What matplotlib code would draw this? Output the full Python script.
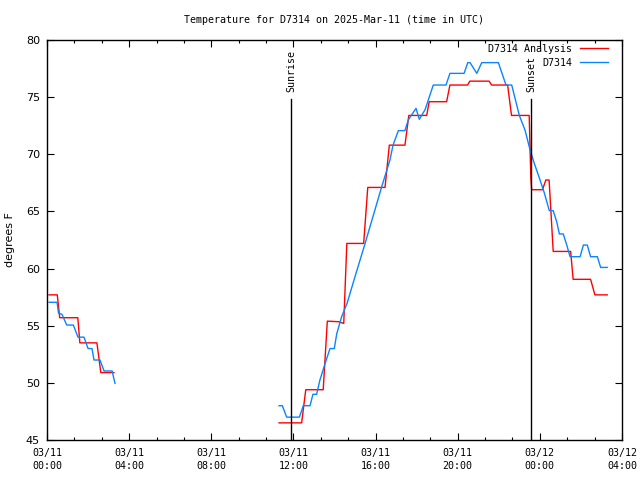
import numpy as np
import matplotlib
matplotlib.use("Agg")
import matplotlib.pyplot as plt
from matplotlib.ticker import MultipleLocator, FixedLocator

nan = np.nan
# hours since 03/11 00:00 UTC
red_t = [0.10, 0.50, 0.62, 1.50, 1.60, 2.43, 2.62, 3.26, nan,
         11.30, 12.40, 12.60, 13.45, 13.65, 14.20, 14.45, 14.60, 15.42, 15.62,
         16.46, 16.67, 17.43, 17.62, 18.49, 18.61, 19.46, 19.62, 20.48, 20.59,
         21.53, 21.65, 22.43, 22.62, 23.48, 23.56, 23.60, 24.13, 24.29, 24.45,
         24.65, 25.50, 25.62, 26.47, 26.68, 27.28]
red_v = [57.7, 57.7, 55.7, 55.7, 53.5, 53.5, 50.9, 50.9, nan,
         46.5, 46.5, 49.4, 49.4, 55.4, 55.35, 55.2, 62.2, 62.2, 67.1,
         67.1, 70.8, 70.8, 73.4, 73.4, 74.6, 74.6, 76.06, 76.06, 76.4,
         76.4, 76.06, 76.06, 73.4, 73.4, 68.0, 66.9, 66.9, 67.75, 67.75,
         61.5, 61.5, 59.06, 59.06, 57.7, 57.7]

blue_t = [0.10, 0.49, 0.56, 0.73, 0.96, 1.28, 1.51, 1.80, 2.00, 2.19, 2.29, 2.58,
          2.78, 3.17, 3.31, nan,
          11.30, 11.46, 11.67, 12.29, 12.48, 12.81, 12.95, 13.13, 13.29, 13.49,
          13.78, 13.99, 14.11, 14.35, 14.62, 15.00, 15.49, 16.30, 16.70, 16.85,
          17.11, 17.43, 17.59, 17.97, 18.13, 18.41, 18.54, 18.81, 19.43, 19.62,
          20.31, 20.49, 20.60, 20.93, 21.17, 21.98, 22.35, 22.63, 23.00, 23.28,
          23.52, 23.73, 24.01, 24.22, 24.46, 24.65, 24.82, 24.95, 25.14, 25.31,
          25.47, 25.96, 26.12, 26.31, 26.47, 26.80, 26.96, 27.28]
blue_v = [57.05, 57.05, 56.1, 56.0, 55.06, 55.06, 54.0, 54.0, 53.0, 53.0, 52.0, 52.0,
          51.04, 51.04, 49.96, nan,
          48.0, 48.0, 47.0, 47.0, 48.0, 48.0, 49.0, 49.0, 50.25, 51.4,
          53.0, 53.0, 54.3, 55.8, 57.0, 59.3, 62.2, 67.17, 69.5, 70.8,
          72.07, 72.07, 73.0, 74.02, 73.06, 73.9, 74.6, 76.06, 76.06, 77.08,
          77.08, 78.02, 78.02, 77.08, 78.02, 78.02, 76.06, 76.06, 73.4, 72.1,
          70.4, 69.2, 67.75, 66.6, 65.07, 65.07, 64.1, 63.03, 63.03, 62.06,
          61.04, 61.04, 62.06, 62.06, 61.04, 61.04, 60.1, 60.1]

sun_t = [11.88, 23.57]
sun_labels = ["Sunrise", "Sunset"]

xtick_pos = [0, 4, 8, 12, 16, 20, 24, 28]
xtick_labels = ["03/11\n00:00", "03/11\n04:00", "03/11\n08:00", "03/11\n12:00",
                "03/11\n16:00", "03/11\n20:00", "03/12\n00:00", "03/12\n04:00"]

mono = "DejaVu Sans Mono"
fs = 7.2

fig = plt.figure(figsize=(6.4, 4.8), dpi=100)
ax = fig.add_axes([47/640, 40/480, 575/640, 400/480])

ax.plot(red_t, red_v, color="#ff0000", lw=1.0, label="D7314 Analysis")
ax.plot(blue_t, blue_v, color="#0a84ff", lw=1.0, label="D7314")

for t, lab in zip(sun_t, sun_labels):
    ax.axvline(t, ymin=0, ymax=0.8525, color="black", lw=1.0)
    ax.text(t, 0.87, lab, rotation=90, ha="center", va="bottom",
            transform=ax.get_xaxis_transform(), family=mono, fontsize=fs)

ax.set_xlim(0, 28)
ax.set_ylim(45, 80)
ax.xaxis.set_major_locator(FixedLocator(xtick_pos))
ax.set_xticklabels(xtick_labels, family=mono, fontsize=fs, linespacing=1.35)
ax.xaxis.set_minor_locator(MultipleLocator(4/3))
ax.yaxis.set_major_locator(MultipleLocator(5))
for lab in ax.get_yticklabels():
    lab.set_fontsize(8)
ax.tick_params(axis="both", which="both", direction="in", top=True, right=True)
ax.tick_params(which="major", length=5, width=0.8)
ax.tick_params(which="minor", length=2.5, width=0.8)
ax.tick_params(axis="x", pad=6)
ax.tick_params(axis="y", pad=5)
for s in ax.spines.values():
    s.set_linewidth(1.0)

ax.set_ylabel("degrees F", fontsize=8)
ax.yaxis.set_label_coords(-0.056, 0.5)
ax.set_title("Temperature for D7314 on 2025-Mar-11 (time in UTC)",
             family=mono, fontsize=fs, pad=12)

leg = ax.legend(loc="upper right", frameon=False, markerfirst=False,
                prop={"family": mono, "size": fs}, handlelength=2.85,
                handletextpad=0.7, labelspacing=0.38, borderpad=0.2,
                borderaxespad=0.6,
                bbox_to_anchor=(1 - 6/575, 1 + 4/400))

fig.savefig("out.png", dpi=100)
